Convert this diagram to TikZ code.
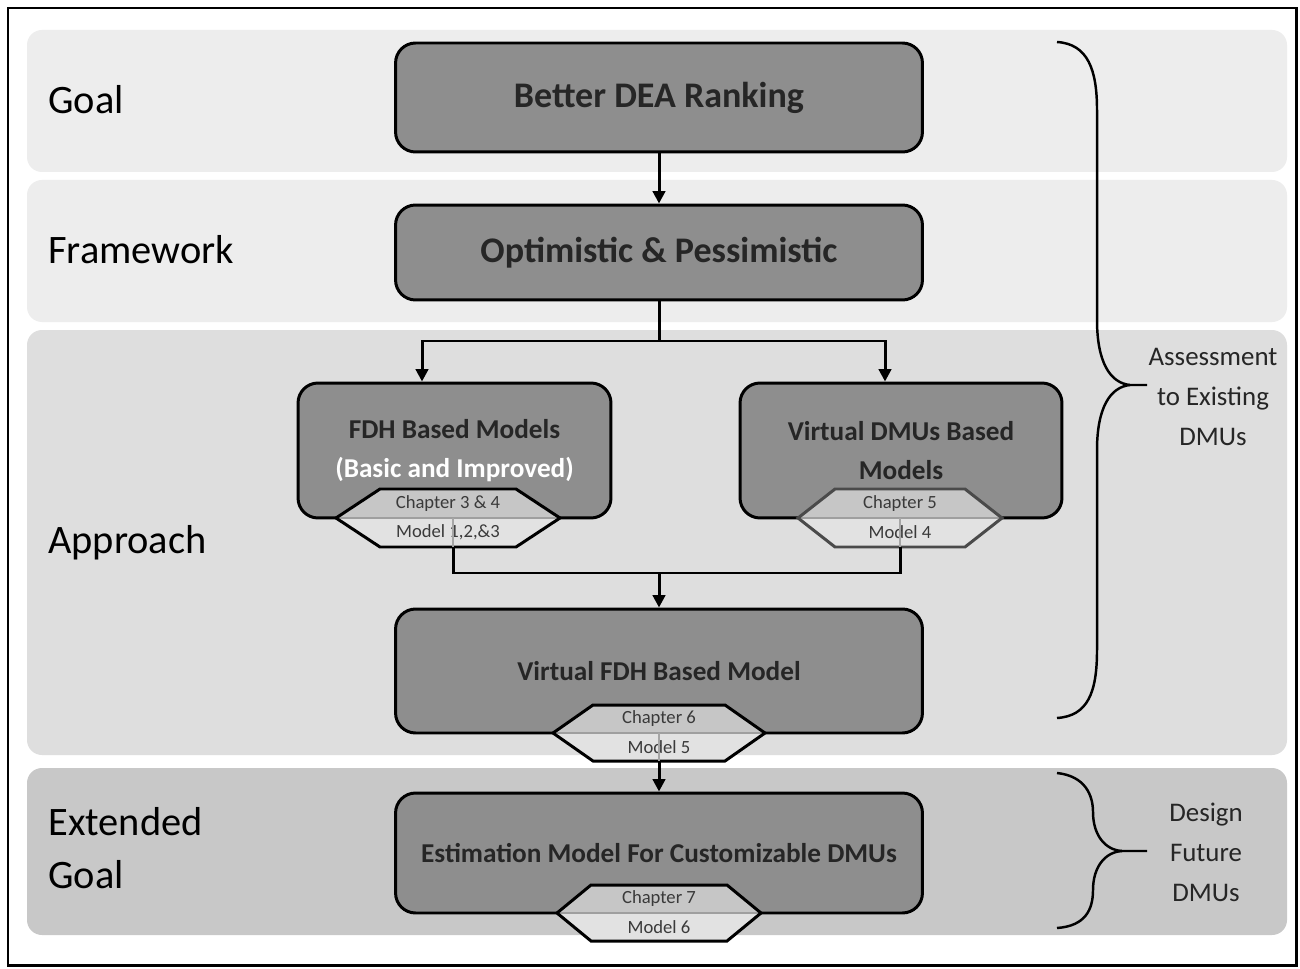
\documentclass[tikz,border=0pt]{standalone}
\usepackage{fontspec}
\setmainfont{Carlito}
\usetikzlibrary{arrows.meta}
\definecolor{bandlight}{HTML}{EDEDED}
\definecolor{bandmid}{HTML}{DEDEDE}
\definecolor{banddark}{HTML}{C8C8C8}
\definecolor{boxgray}{HTML}{8E8E8E}
\definecolor{textdark}{HTML}{262626}
\definecolor{hextop}{HTML}{C6C6C6}
\definecolor{hexbot}{HTML}{E2E2E2}
\definecolor{hextxt}{HTML}{3A3A3A}
\definecolor{hexline}{HTML}{4A4A4A}
\newcommand\hexshape[9]{%
  \fill[hextop] (#1-#4,#2-#5) -- (#1+#4,#2-#5) -- (#1+#3,#2) -- (#1-#3,#2) -- cycle;
  \fill[hexbot] (#1-#3,#2) -- (#1+#3,#2) -- (#1+#4,#2+#5) -- (#1-#4,#2+#5) -- cycle;
  \draw[gray!75, line width=1pt] (#1-#3,#2) -- (#1+#3,#2);
  \draw[#6, line width=1.7pt, line join=miter] (#1-#4,#2-#5) -- (#1+#4,#2-#5) -- (#1+#3,#2) -- (#1+#4,#2+#5) -- (#1-#4,#2+#5) -- (#1-#3,#2) -- cycle;
  \node[hextext] (#7t) at (#1,#2-#5/2) {#8};
  \node[hextext] (#7b) at (#1,#2+#5/2) {#9};
  \coordinate (#7m) at (#1,#2);
  \coordinate (#7) at (#1,#2+#5);
}
\tikzset{
  band/.style={rounded corners=0.3cm, draw=none},
  box/.style={draw=black, line width=1.7pt, fill=boxgray, rounded corners=0.4cm,
    inner sep=0pt, align=center, text=textdark,
    font=\bfseries\fontsize{15.5}{22}\selectfont},
  bigbox/.style={box, font=\bfseries\fontsize{20.5}{25}\selectfont},
  hextext/.style={inner sep=0pt, text=hextxt, font=\fontsize{10.6}{12}\selectfont},
  lefttext/.style={anchor=west, inner sep=0pt, align=left, text=black,
    font=\fontsize{23}{30}\selectfont},
  righttext/.style={inner sep=0pt, align=center, text=textdark,
    font=\fontsize{15.3}{22.7}\selectfont},
  conn/.style={draw=black, line width=1.7pt},
  arr/.style={conn, -{Triangle[length=7pt,width=7pt]}},
  brace/.style={draw=black, line width=1.4pt},
  faint/.style={draw=gray!70, line width=1pt}
}
\begin{document}
\begin{tikzpicture}[x=0.02cm, y=-0.02cm]
\useasboundingbox (0,0) rectangle (1300,969);
\fill[white] (0,0) rectangle (1300,969);
\draw[line width=1.7pt] (8,8) rectangle (1296,965);

% bands
\fill[band, bandlight] (27,30) rectangle (1287,172);
\fill[band, bandlight] (27,180) rectangle (1287,322);
\fill[band, bandmid] (27,330) rectangle (1287,755);
\fill[band, banddark] (27,768) rectangle (1287,935);

% left labels
\node[lefttext] (lgoal) at (48,100) {Goal};
\node[lefttext] (lframe) at (48,250) {Framework};
\node[lefttext] (lappr) at (48,543) {Approach};
\node[lefttext] (lext) at (48,848) {Extended\\Goal};

% boxes
\node[bigbox, minimum width=10.54cm, minimum height=2.18cm] (dea) at (659,97.5) {Better DEA Ranking};
\node[bigbox, minimum width=10.54cm, minimum height=1.9cm] (opt) at (659,252.5) {Optimistic \& Pessimistic};
\node[box, minimum width=6.26cm, minimum height=2.7cm] (fdh) at (454.5,450.5) {FDH Based Models\\{\color{white}(Basic and Improved)}};
\node[box, minimum width=6.44cm, minimum height=2.7cm] (vdmu) at (901,450.5) {Virtual DMUs Based\\Models};
\node[box, minimum width=10.54cm, minimum height=2.48cm] (vfdh) at (659,671) {Virtual FDH Based Model};
\node[box, minimum width=10.54cm, minimum height=2.4cm] (est) at (659,853) {Estimation Model For Customizable DMUs};

% hexagons
\hexshape{448}{518}{112}{68}{29}{black}{lhex}{Chapter 3 \& 4}{Model 1,2,\&3}
\hexshape{900}{518}{102}{65}{29}{hexline}{rhex}{Chapter 5}{Model 4}
\hexshape{659}{733}{106}{66}{28}{black}{mhex}{Chapter 6}{Model 5}
\hexshape{659}{913}{102}{68}{28}{black}{ehex}{Chapter 7}{Model 6}

% faint connector lines seen through hexagons
\draw[faint] ([xshift=0.1cm]lhexm) -- ([xshift=0.1cm]lhex);
\draw[faint] (rhexm) -- (rhex);
\draw[faint] (mhexm) -- (mhex);

% connectors
\draw[arr] (dea.south) -- (opt.north);
\coordinate (jn) at (659,341);
\draw[conn] (opt.south) -- (jn);
\draw[arr] (jn) -| ([xshift=-0.65cm]fdh.north);
\draw[arr] (jn) -| ([xshift=-0.32cm]vdmu.north);
\coordinate (mrg) at (659,573);
\draw[conn] ([xshift=0.1cm]lhex) |- (mrg) -| (rhex);
\draw[arr] (mrg) -- (vfdh.north);
\draw[arr] (mhex) -- (est.north);

% braces
\draw[brace] (1057,42) .. controls (1088,44) and (1097,70) .. (1097,110)
  -- (1097,320) .. controls (1097,362) and (1110,383) .. (1130,385) -- (1147,385);
\draw[brace] (1130,385) .. controls (1110,387) and (1097,408) .. (1097,450)
  -- (1097,650) .. controls (1097,692) and (1088,716) .. (1057,718);
\draw[brace] (1057,773) .. controls (1085,776) and (1093,795) .. (1093,812)
  .. controls (1093,835) and (1105,850) .. (1122,851) -- (1147,851);
\draw[brace] (1122,851) .. controls (1105,852) and (1093,867) .. (1093,890)
  .. controls (1093,910) and (1085,926) .. (1057,928);

% right labels
\node[righttext] (assess) at (1213,397) {Assessment\\to Existing\\DMUs};
\node[righttext] (design) at (1206,852) {Design\\Future\\DMUs};
\end{tikzpicture}
\end{document}
